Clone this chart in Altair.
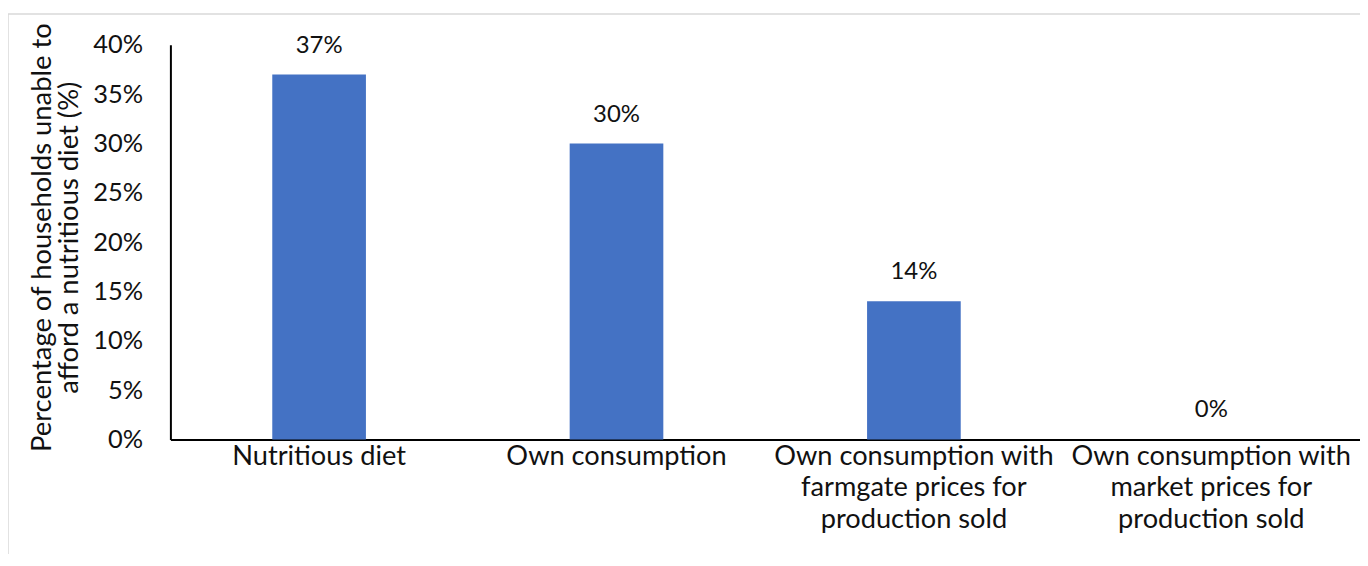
import altair as alt
import pandas as pd

categories = [
    "Nutritious diet",
    "Own consumption",
    "Own consumption with|farmgate prices for|production sold",
    "Own consumption with|market prices for|production sold",
]
values = [0.37, 0.30, 0.14, 0.0]
y_ticks = [0, 0.05, 0.10, 0.15, 0.20, 0.25, 0.30, 0.35, 0.40]
y_title = ["Percentage of households unable to", "afford a nutritious diet (%)"]

df = pd.DataFrame({"category": categories, "value": values})

FONT = "Lato"
TXT = "#111111"

x_enc = alt.X(
    "category:N",
    sort=categories,
    title=None,
    scale=alt.Scale(paddingInner=0, paddingOuter=0),
    axis=alt.Axis(
        labelExpr="split(datum.label, '|')",
        labelAngle=0,
        labelFont=FONT,
        labelFontSize=27.3,
        labelColor=TXT,
        labelLineHeight=31.5,
        labelPadding=3,
        labelBaseline="top",
        ticks=False,
        domainColor="#000000",
        domainWidth=2,
        labelLimit=400,
    ),
)
y_enc = alt.Y(
    "value:Q",
    scale=alt.Scale(domain=[0, 0.4], nice=False),
    axis=alt.Axis(
        values=y_ticks,
        format=".0%",
        title=y_title,
        titleFont=FONT,
        titleFontSize=27.5,
        titleFontWeight="normal",
        titleColor=TXT,
        titleLineHeight=27,
        titleX=-142,
        titleY=193,
        titleBaseline="top",
        titleAngle=-90,
        labelFont=FONT,
        labelFontSize=25.5,
        labelColor=TXT,
        labelPadding=28,
        ticks=False,
        grid=False,
        domainColor="#000000",
        domainWidth=2,
    ),
)

border = alt.Chart(pd.DataFrame({"a": [0]})).mark_rect(
    fill=None, stroke="#d9d9d9", strokeWidth=1.5
).encode(
    x=alt.value(-163), x2=alt.value(1400), y=alt.value(-31), y2=alt.value(700)
)

bars = alt.Chart(df).mark_bar(color="#4472C4", size=94).encode(x=x_enc, y=y_enc)

labels = alt.Chart(df).mark_text(
    font=FONT, fontSize=24, color=TXT, baseline="middle", dy=-29
).encode(
    x=alt.X("category:N", sort=categories),
    y=alt.Y("value:Q"),
    text=alt.Text("value:Q", format=".0%"),
)

chart = (
    alt.layer(border, bars, labels)
    .properties(
        width=1194,
        height=396,
        autosize=alt.AutoSizeParams(type="none"),
        padding={"left": 163, "top": 36, "right": 0, "bottom": 114},
        background="white",
    )
    .configure_view(stroke=None)
)

chart.save("out.html", embed_options={"renderer": "svg", "actions": False})
